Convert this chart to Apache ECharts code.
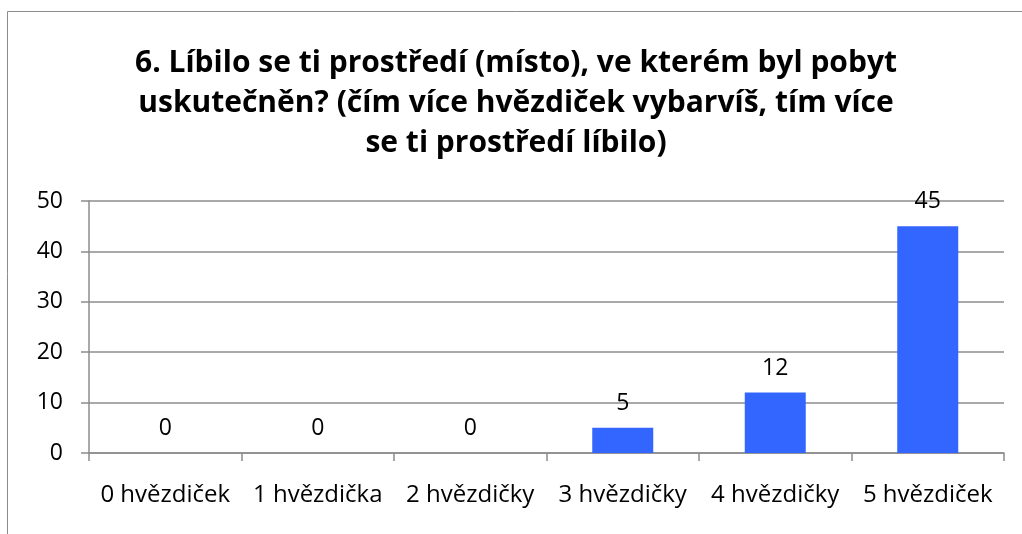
<!DOCTYPE html>
<html>
<head>
<meta charset="utf-8">
<script src="https://cdn.jsdelivr.net/npm/echarts@6/dist/echarts.min.js"></script>
<style>
html,body{margin:0;padding:0;background:#fff;}
#main{width:1022px;height:534px;}
</style>
</head>
<body>
<div id="main"></div>
<script>
// data
var categories = ["0 hvězdiček", "1 hvězdička", "2 hvězdičky", "3 hvězdičky", "4 hvězdičky", "5 hvězdiček"];
var values = [0, 0, 0, 5, 12, 45];
var titleText = "6. Líbilo se ti prostředí (místo), ve kterém byl pobyt\nuskutečněn? (čím více hvězdiček vybarvíš, tím více\nse ti prostředí líbilo)";

var myChart = echarts.init(document.getElementById("main"));

var option = {
    animation : false,
    textStyle : {fontFamily : "Open Sans"},
    title : {
        text : titleText,
        left : 511,
        top : 38,
        textAlign : "center",
        textStyle : {
            fontFamily : "Open Sans",
            fontWeight : "bold",
            fontSize : 30,
            lineHeight : 40,
            color : "#000"
        }
    },
    graphic : [
        {
            type : "rect",
            shape : {x : 7.5, y : 11.5, width : 1030, height : 540},
            style : {fill : "none", stroke : "#8c8c8c", lineWidth : 1},
            silent : true
        }
    ],
    grid : {left : 89, right : 18, top : 201, bottom : 81, containLabel : false},
    xAxis : {
        type : "category",
        data : categories,
        axisLine : {lineStyle : {color : "#8c8c8c", width : 1.5}},
        axisTick : {show : true, length : 8, alignWithLabel : false, lineStyle : {color : "#8c8c8c", width : 1.5}},
        axisLabel : {color : "#000", fontSize : 24, margin : 30, interval : 0}
    },
    yAxis : {
        type : "value",
        min : 0,
        max : 50,
        interval : 10,
        axisLine : {show : true, lineStyle : {color : "#8c8c8c", width : 1.5}},
        axisTick : {show : true, length : 8, lineStyle : {color : "#8c8c8c", width : 1.5}},
        axisLabel : {color : "#000", fontSize : 23, margin : 26},
        splitLine : {lineStyle : {color : "#8c8c8c", width : 1.5}}
    },
    series : [
        {
            type : "bar",
            data : values,
            barWidth : "40%",
            itemStyle : {color : "#3366ff"},
            label : {
                show : true,
                position : "top",
                distance : 13,
                color : "#000",
                fontSize : 23
            }
        }
    ]
};

myChart.setOption(option);
</script>
</body>
</html>
